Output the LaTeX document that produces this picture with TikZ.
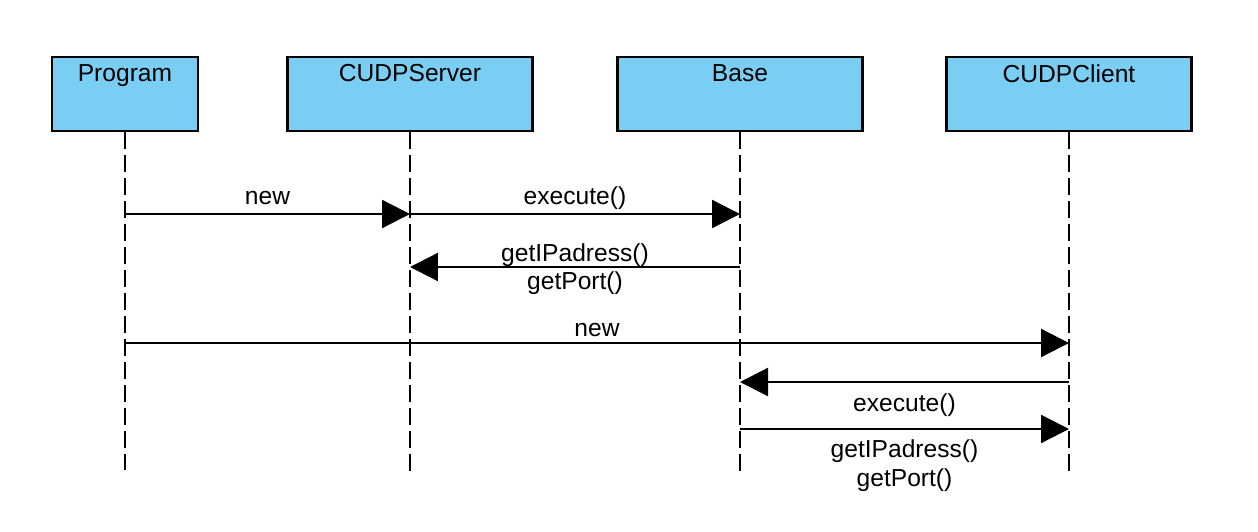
\documentclass[tikz,border=0pt]{standalone}
\usepackage{fontspec}
\setmainfont{Liberation Sans}
\usetikzlibrary{arrows.meta}
\definecolor{lifebox}{RGB}{122,206,244}

\begin{document}
\begin{tikzpicture}[x=0.02cm, y=-0.02cm, font=\fontsize{14}{16}\selectfont,
        objbox/.style={draw=black, fill=lifebox, line width=1.3pt, minimum height=1.48cm, inner sep=0pt},
        boxlbl/.style={anchor=north, inner sep=0pt, yshift=-0.16cm},
        lifeline/.style={draw=black, line width=1.3pt, dash pattern=on 0.33cm off 0.13cm},
        msg/.style={draw=black, line width=1.3pt, -{Triangle[length=0.56cm, width=0.56cm]}},
        txt/.style={inner sep=0pt, align=center}]
        \useasboundingbox (0,0) rectangle (1258,531);

        \node[objbox, minimum width=2.92cm] (prog) at (125,94) {};
        \node[objbox, minimum width=4.9cm] (serv) at (410,94) {};
        \node[objbox, minimum width=4.9cm] (base) at (740,94) {};
        \node[objbox, minimum width=4.9cm] (clnt) at (1069,94) {};
        \node[boxlbl] at (prog.north) {Program};
        \node[boxlbl] at (serv.north) {CUDPServer};
        \node[boxlbl] at (base.north) {Base};
        \node[boxlbl] at (clnt.north) {CUDPClient};

        \coordinate (progend) at (125,470);
        \coordinate (servend) at (410,477);
        \coordinate (baseend) at (740,477);
        \coordinate (clntend) at (1069,477);
        \draw[lifeline] (prog.south) -- (progend);
        \draw[lifeline] (serv.south) -- (servend);
        \draw[lifeline] (base.south) -- (baseend);
        \draw[lifeline] (clnt.south) -- (clntend);

        \coordinate (m1) at (0,214);
        \coordinate (m2) at (0,267);
        \coordinate (m3) at (0,343);
        \coordinate (m4) at (0,382);
        \coordinate (m5) at (0,429);

        \draw[msg] (prog |- m1) -- node[txt, anchor=base, yshift=0.19cm] {new} (serv |- m1);
        \draw[msg] (serv |- m1) -- node[txt, anchor=base, yshift=0.19cm] {execute()} (base |- m1);
        \draw[msg] (base |- m2) -- node[txt, anchor=center, yshift=-0.04cm] {getIPadress()\\getPort()} (serv |- m2);
        \draw[msg] (prog |- m3) -- node[txt, anchor=base, yshift=0.13cm] {new} (clnt |- m3);
        \draw[msg] (clnt |- m4) -- node[txt, anchor=north, yshift=-0.22cm] {execute()} (base |- m4);
        \draw[msg] (base |- m5) -- node[txt, anchor=north, yshift=-0.2cm] {getIPadress()\\getPort()} (clnt |- m5);

\end{tikzpicture}
\end{document}
